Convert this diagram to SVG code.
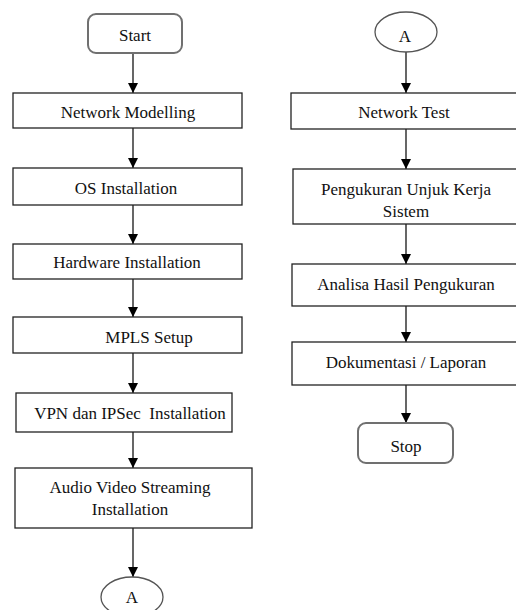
<svg xmlns="http://www.w3.org/2000/svg" width="516" height="610" viewBox="0 0 516 610">
<style>
.box{fill:#fff;stroke:#222;stroke-width:1.3}
.term{fill:#fff;stroke:#707070;stroke-width:2}
.oval{fill:#fff;stroke:#555;stroke-width:1.3}
text{font-family:'Liberation Serif','Times New Roman','DejaVu Serif',serif;font-size:17px;fill:#111;text-anchor:middle}
.conn line{stroke:#000;stroke-width:1.2}
</style>
<defs>
<marker id="ah" viewBox="0 0 10 10" refX="10" refY="5" markerWidth="10" markerHeight="10" markerUnits="userSpaceOnUse" orient="auto">
<path d="M0,0 L10,5 L0,10 z" fill="#000"/>
</marker>
</defs>
<rect width="516" height="610" fill="#fff"/>
<g class="conn">
<line x1="133" y1="53" x2="133" y2="93" marker-end="url(#ah)"/>
<line x1="133" y1="128" x2="133" y2="168" marker-end="url(#ah)"/>
<line x1="133" y1="205" x2="133" y2="244" marker-end="url(#ah)"/>
<line x1="133" y1="279" x2="133" y2="317" marker-end="url(#ah)"/>
<line x1="133" y1="353" x2="133" y2="393" marker-end="url(#ah)"/>
<line x1="133" y1="432" x2="133" y2="468" marker-end="url(#ah)"/>
<line x1="133" y1="528" x2="133" y2="577" marker-end="url(#ah)"/>
<line x1="406" y1="52" x2="406" y2="93" marker-end="url(#ah)"/>
<line x1="406" y1="129" x2="406" y2="169" marker-end="url(#ah)"/>
<line x1="406" y1="224" x2="406" y2="264" marker-end="url(#ah)"/>
<line x1="406" y1="306" x2="406" y2="342" marker-end="url(#ah)"/>
<line x1="406" y1="385" x2="406" y2="423" marker-end="url(#ah)"/>
</g>
<g id="start"><rect class="term" x="88" y="14" width="94" height="39" rx="8"/><text x="135" y="41">Start</text></g>
<g id="network-modelling"><rect class="box" x="13" y="93" width="229" height="35"/><text x="128" y="118">Network Modelling</text></g>
<g id="os-installation"><rect class="box" x="13" y="168" width="229" height="37"/><text x="126" y="194">OS Installation</text></g>
<g id="hardware-installation"><rect class="box" x="13" y="244" width="229" height="35"/><text x="127" y="268">Hardware Installation</text></g>
<g id="mpls-setup"><rect class="box" x="13" y="317" width="229" height="36"/><text x="149" y="343">MPLS Setup</text></g>
<g id="vpn-ipsec"><rect class="box" x="16" y="393" width="216" height="39"/><text x="130" y="419" xml:space="preserve">VPN dan IPSec  Installation</text></g>
<g id="audio-video"><rect class="box" x="15" y="468" width="237" height="60"/><text x="130" y="493">Audio Video Streaming</text><text x="130" y="515">Installation</text></g>
<g id="connector-a-out"><ellipse class="oval" cx="132" cy="597" rx="31" ry="20"/><text x="132" y="603">A</text></g>
<g id="connector-a-in"><ellipse class="oval" cx="406" cy="32" rx="31" ry="20"/><text x="405" y="42">A</text></g>
<g id="network-test"><rect class="box" x="291" y="93" width="230" height="36"/><text x="404" y="118">Network Test</text></g>
<g id="pengukuran"><rect class="box" x="293" y="169" width="230" height="55"/><text x="406" y="195">Pengukuran Unjuk Kerja</text><text x="406" y="217">Sistem</text></g>
<g id="analisa"><rect class="box" x="292" y="264" width="230" height="42"/><text x="406" y="290">Analisa Hasil Pengukuran</text></g>
<g id="dokumentasi"><rect class="box" x="292" y="342" width="230" height="43"/><text x="406" y="368">Dokumentasi / Laporan</text></g>
<g id="stop"><rect class="term" x="358" y="423" width="95" height="40" rx="8"/><text x="406" y="452">Stop</text></g>
</svg>
